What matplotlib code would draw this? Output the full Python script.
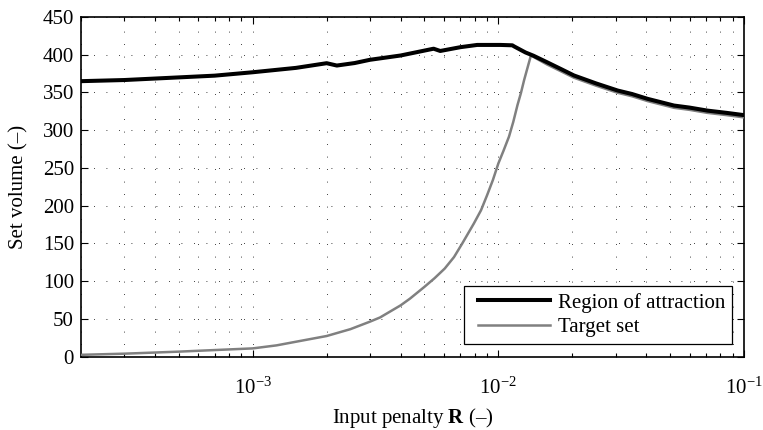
import matplotlib
matplotlib.use("Agg")
import matplotlib.pyplot as plt
from matplotlib.ticker import LogLocator, NullFormatter
from matplotlib.legend_handler import HandlerLine2D
from matplotlib.lines import Line2D

plt.rcParams['font.family'] = ['Liberation Serif', 'DejaVu Serif']
plt.rcParams['mathtext.fontset'] = 'custom'
plt.rcParams['mathtext.rm'] = 'Liberation Serif'
plt.rcParams['mathtext.it'] = 'Liberation Serif:italic'
plt.rcParams['mathtext.bf'] = 'Liberation Serif:bold'

# Region of attraction
roa_R = [2e-4, 3e-4, 5e-4, 7e-4, 1e-3, 1.5e-3, 2e-3, 2.2e-3, 2.6e-3, 3e-3, 4e-3,
         5e-3, 5.45e-3, 5.8e-3, 7e-3, 8.2e-3, 1.02e-2, 1.14e-2, 1.16e-2, 1.29e-2,
         1.39e-2, 1.58e-2, 1.8e-2, 2.03e-2, 2.5e-2, 3.06e-2, 3.5e-2, 4.05e-2,
         5.19e-2, 6e-2, 7.1e-2, 8.5e-2, 1e-1]
roa_V = [365, 366.5, 370, 372.3, 376.8, 382.6, 388.8, 385.7, 389, 393.3, 399,
         405.5, 408, 405, 410, 413, 413, 412.5, 411, 403,
         398.7, 390, 381, 372.6, 362, 352.6, 348, 341.6,
         332.7, 330, 326, 323, 320]

# Target set
ts_R = [2e-4, 3e-4, 5e-4, 7e-4, 1e-3, 1.25e-3, 1.51e-3, 2e-3, 2.5e-3, 3e-3, 3.3e-3,
        4e-3, 4.37e-3, 5e-3, 5.5e-3, 6.05e-3, 6.6e-3, 7.13e-3, 7.95e-3, 8.5e-3,
        9e-3, 9.5e-3, 1e-2, 1.05e-2, 1.105e-2, 1.15e-2, 1.197e-2, 1.235e-2,
        1.274e-2, 1.315e-2, 1.357e-2, 1.58e-2, 1.8e-2, 2.03e-2, 2.5e-2,
        3.06e-2, 3.5e-2, 4.05e-2, 5.19e-2, 6e-2, 7.1e-2, 8.5e-2, 1e-1]
ts_V = [2.5, 4, 6.7, 8.8, 11, 15, 20, 27.4, 36.5, 46.4, 52,
        68, 77, 92.5, 104, 116.8, 132, 150, 176.5, 194,
        214, 234, 256, 273, 291.6, 311, 333.6, 349,
        366.8, 383, 399, 387, 378, 369.6, 359,
        349.6, 345, 338.6, 329.7, 327, 323, 320, 317]

y_ticks = [0, 50, 100, 150, 200, 250, 300, 350, 400, 450]

fig = plt.figure(figsize=(7.63, 4.30), dpi=100)
ax = fig.add_axes([81/763, 1-356.7/430, (744-81)/763, (356.7-17)/430])

ax.plot(ts_R, ts_V, color='#808080', lw=1.8, label='Target set', zorder=3)
ax.plot(roa_R, roa_V, color='black', lw=2.9, label='Region of attraction', zorder=4)
ax.set_xscale('log')
ax.set_xlim(2e-4, 1e-1)
ax.set_ylim(0, 450)
ax.set_yticks(y_ticks)
ax.xaxis.set_major_locator(LogLocator(base=10, numticks=10))
ax.xaxis.set_minor_locator(LogLocator(base=10, subs=range(2, 10), numticks=20))
ax.xaxis.set_minor_formatter(NullFormatter())

grid_ls = (0, (1, 14))
ax.grid(True, which='major', axis='both', color='black', lw=0.6, linestyle=grid_ls)
ax.grid(True, which='minor', axis='x', color='black', lw=0.6, linestyle=grid_ls)

fs = 15
ax.tick_params(which='both', direction='in', top=True, right=True, labelsize=fs,
               width=0.8, color='black')
ax.tick_params(which='major', length=5)
ax.tick_params(which='minor', length=3)
ax.tick_params(axis='x', which='major', pad=15)
ax.tick_params(axis='y', which='major', pad=5)
for s in ax.spines.values():
    s.set_linewidth(1.2)

ax.set_xlabel(r'Input penalty $\mathbf{R}$ (–)', fontsize=fs, labelpad=5.5)
ax.set_ylabel('Set volume (–)', fontsize=fs, labelpad=10)

handles, labels = ax.get_legend_handles_labels()
leg = ax.legend(handles[::-1], labels[::-1], loc='lower right',
                bbox_to_anchor=(0.9819, 0.0365), borderaxespad=0,
                fontsize=fs, handlelength=3.79, handletextpad=0.39,
                labelspacing=0.25, borderpad=0.33, fancybox=False, framealpha=1,
                edgecolor='black',
                handler_map={Line2D: HandlerLine2D(xpad=0.34)})
leg.get_frame().set_linewidth(0.9)

fig.savefig('out.png', dpi=100)
